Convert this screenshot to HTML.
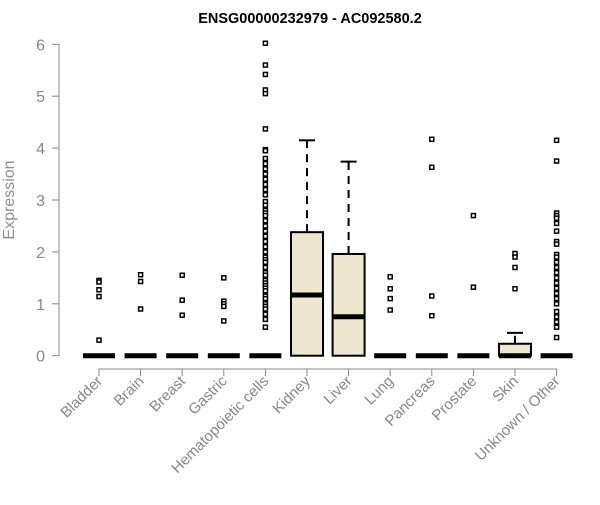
<!DOCTYPE html>
<html><head><meta charset="utf-8"><style>
body{margin:0;background:#fff}
svg text{font-family:"Liberation Sans",Arial,sans-serif}
</style></head><body>
<svg id="chart" width="600" height="500" xmlns="http://www.w3.org/2000/svg">
<text x="310" y="23" text-anchor="middle" font-weight="bold" font-size="14.5">ENSG00000232979 - AC092580.2</text>
<text transform="translate(14,200) rotate(-90)" text-anchor="middle" font-size="16" fill="#909090">Expression</text>
<g id="axes"></g><g id="marks"></g>
</svg>
<script>
const categories=["Bladder","Brain","Breast","Gastric","Hematopoietic cells","Kidney","Liver","Lung","Pancreas","Prostate","Skin","Unknown / Other"];
const q1s=[0,0,0,0,0,0,0,0,0,0,0,0];
const medians=[0,0,0,0,0,1.17,0.75,0,0,0,0,0];
const q3s=[0,0,0,0,0,2.38,1.96,0,0,0,0.23,0];
const whiskerHi=[0,0,0,0,0,4.15,3.74,0,0,0,0.44,0];
const outliers=[
[1.45,1.42,1.27,1.14,0.3],
[1.56,1.43,0.9],
[1.55,1.07,0.78],
[1.5,1.05,1.0,0.95,0.67],
[6.02,5.6,5.42,5.12,5.05,4.37,3.97,3.95,3.8,3.7,3.6,3.5,3.4,3.3,3.2,3.1,2.97,2.9,2.8,2.75,2.7,2.6,2.5,2.4,2.3,2.2,2.1,2.0,1.9,1.85,1.8,1.7,1.6,1.55,1.45,1.4,1.35,1.3,1.25,1.15,1.1,1.0,0.95,0.9,0.8,0.7,0.55],
[],[],
[1.52,1.29,1.1,0.88],
[4.17,3.63,1.15,0.77],
[2.7,1.32],
[1.97,1.9,1.7,1.29],
[4.15,3.75,2.75,2.7,2.65,2.55,2.4,2.2,2.15,1.95,1.9,1.8,1.7,1.6,1.5,1.4,1.3,1.2,1.1,1.0,0.85,0.75,0.65,0.55,0.35]
];
const yTicks=[0,1,2,3,4,5,6];
const NS="http://www.w3.org/2000/svg";
const x=i=>99+i*41.6;
const y=v=>355.7-v*51.9;
const axes=document.getElementById('axes'),marks=document.getElementById('marks');
function mk(p,t,a){const e=document.createElementNS(NS,t);for(const k in a)e.setAttribute(k,a[k]);p.appendChild(e);return e;}
const ya=mk(axes,'path',{d:`M59,${y(0)}V${y(6)}`,stroke:'#888',fill:'none'});


yTicks.forEach(v=>{
 const t=mk(axes,'line',{x1:52,x2:59,y1:y(v),y2:y(v),stroke:'#888'});
 
 
 const l=mk(axes,'text',{x:45,y:y(v)+6,'text-anchor':'end','font-size':'16',fill:'#888'});
 l.textContent=v;
 
 
});
const xa=mk(axes,'path',{d:`M${x(0)},369H${x(11)}`,stroke:'#888',fill:'none'});


categories.forEach((c,i)=>{
 const t=mk(axes,'line',{x1:x(i),x2:x(i),y1:369,y2:376,stroke:'#888'});
 
 
 const l=mk(axes,'text',{transform:`translate(${x(i)+4},382) rotate(-45)`,'text-anchor':'end','font-size':'15',fill:'#888'});
 l.textContent=c;
 
 
 const g=mk(marks,'g',{});
 
 
 const cx=x(i),hw=16;
 if(whiskerHi[i]>q3s[i]){
  mk(g,'line',{x1:cx,x2:cx,y1:y(q3s[i]),y2:y(whiskerHi[i]),stroke:'#000','stroke-width':2,'stroke-dasharray':'8,6'});
  mk(g,'line',{x1:cx-8,x2:cx+8,y1:y(whiskerHi[i]),y2:y(whiskerHi[i]),stroke:'#000','stroke-width':2});
 }
 if(q3s[i]>q1s[i]){
  mk(g,'rect',{x:cx-hw,y:y(q3s[i]),width:hw*2,height:y(q1s[i])-y(q3s[i]),fill:'#ede7cd',stroke:'#000','stroke-width':2});
 }
 mk(g,'line',{x1:cx-hw,x2:cx+hw,y1:y(medians[i]),y2:y(medians[i]),stroke:'#000','stroke-width':5});
 outliers[i].forEach(v=>{
  const o=mk(g,'rect',{x:cx-2,y:y(v)-2,width:4,height:4,fill:'#fff',stroke:'#000','stroke-width':1.5});
  
  
 });
});
</script>
</body></html>
